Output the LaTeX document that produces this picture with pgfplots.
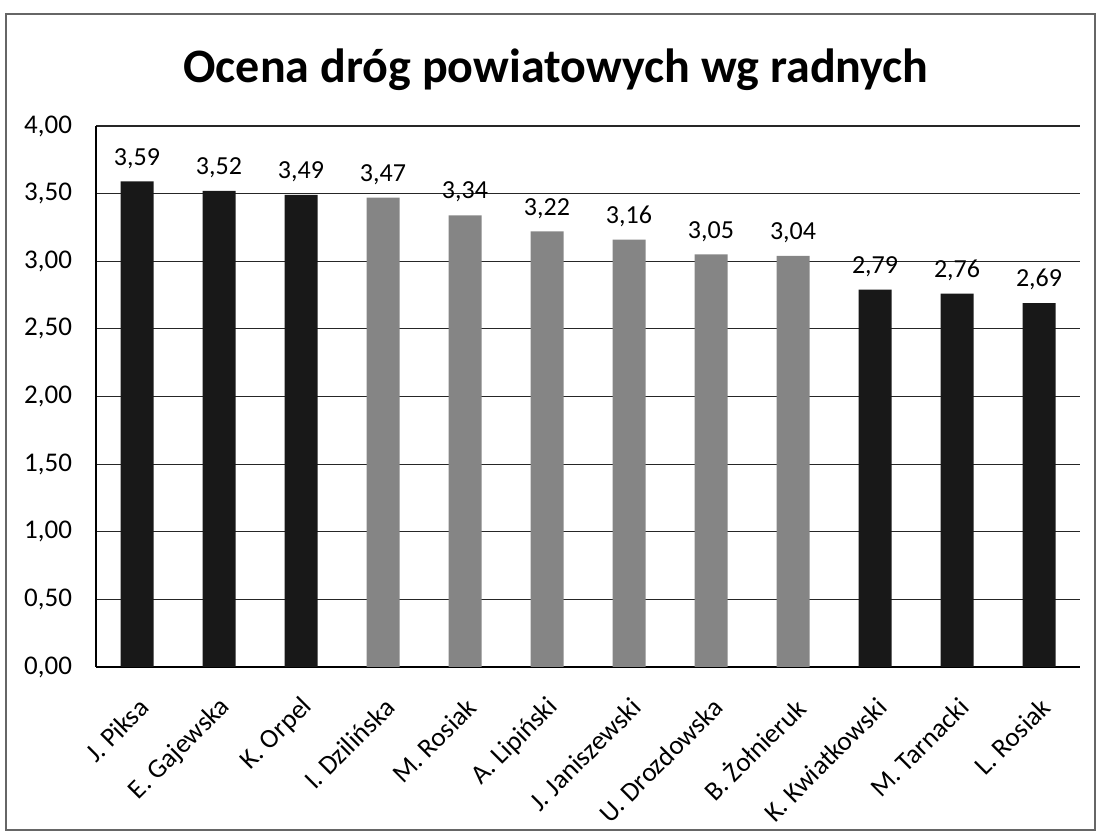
\documentclass[border=0pt]{standalone}
\usepackage{fontspec}
\setmainfont{Carlito}
\usepackage{pgfplots}
\pgfplotsset{compat=1.18}
\definecolor{darkbar}{HTML}{181818}
\definecolor{greybar}{HTML}{858585}
\begin{document}
\begin{tikzpicture}
\path[use as bounding box] (0,0) rectangle (548pt,417pt);
\draw[black!60, line width=0.6pt] (3pt,2pt) rectangle (547.5pt,410pt);
\node[font=\fontsize{24}{28}\selectfont\bfseries] at (278pt,382pt) {Ocena dróg powiatowych wg radnych};
\begin{axis}[
  at={(48pt,83.5pt)}, anchor=south west,
  scale only axis, width=492pt, height=270.5pt,
  xmin=-0.5, xmax=11.5, ymin=0, ymax=4,
  ytick={0,0.5,...,4},
  xtick={0,...,11},
  xticklabels={J. Piksa, E. Gajewska, K. Orpel, I. Dzilińska, M. Rosiak, A. Lipiński, J. Janiszewski, U. Drozdowska, B. Żołnieruk, K. Kwiatkowski, M. Tarnacki, L. Rosiak},
  axis x line*=bottom, axis y line*=left,
  axis line style={-, black, line width=0.6pt},
  ymajorgrids, grid style={black!85, line width=0.6pt},
  major tick length=0pt,
  /pgf/number format/assume math mode=true,
  yticklabel style={font=\fontsize{13.5}{16}\selectfont, /pgf/number format/.cd, fixed, fixed zerofill, precision=2, use comma, /tikz/.cd, xshift=-8.5pt},
  xticklabel style={font=\fontsize{13.5}{16}\selectfont, xshift=6pt, yshift=-15.5pt, rotate=45, anchor=east},
  ybar, bar width=16.5pt,
  nodes near coords,
  every node near coord/.append style={font=\fontsize{13}{15}\selectfont, yshift=3pt, /pgf/number format/.cd, fixed, fixed zerofill, precision=2, use comma, assume math mode=true},
]
\addplot[fill=darkbar, draw=none, bar shift=0pt] coordinates {(0,3.59) (1,3.52) (2,3.49) (9,2.79) (10,2.76) (11,2.69)};
\addplot[fill=greybar, draw=none, bar shift=0pt] coordinates {(3,3.47) (4,3.34) (5,3.22) (6,3.16) (7,3.05) (8,3.04)};
\end{axis}
\end{tikzpicture}
\end{document}
